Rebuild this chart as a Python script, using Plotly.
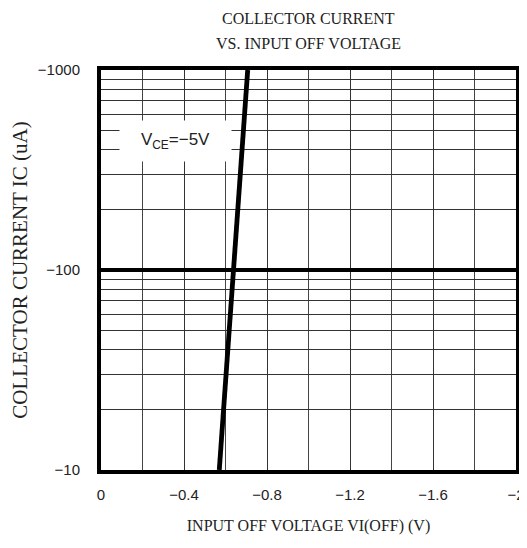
import plotly.graph_objects as go

# Data (current magnitudes in uA; sign shown in tick labels)
vi_off = [-0.57, -0.638, -0.707]
ic_mag = [10, 100, 1000]

x_tick_vals = [0, -0.4, -0.8, -1.2, -1.6, -2]
x_tick_text = ["0", "−0.4", "−0.8", "−1.2", "−1.6", "−2"]
x_minor_vals = [-0.2, -0.6, -1.0, -1.4, -1.8]

y_tick_vals = [10, 100, 1000]
y_tick_text = ["−10", "−100", "−1000"]
y_minor_vals = [20, 30, 40, 50, 60, 70, 80, 90, 200, 300, 400, 500, 600, 700, 800, 900]

title_lines = ["COLLECTOR CURRENT", "VS. INPUT OFF VOLTAGE"]

serif = "Liberation Serif, Times New Roman, serif"
sans = "Liberation Sans, Arial, sans-serif"

fig = go.Figure()
fig.add_trace(go.Scatter(x=vi_off, y=ic_mag, mode="lines",
                         line=dict(color="black", width=4.8), showlegend=False))

# page body has an 8px default margin: figure is sized to fill the rest of the window
fig.update_layout(
    width=519, height=540,
    margin=dict(l=93, r=11, t=62, b=78, autoexpand=False),
    paper_bgcolor="white", plot_bgcolor="white",
    xaxis=dict(range=[0, -2], tickvals=x_tick_vals, ticktext=x_tick_text,
               showgrid=True, gridcolor="#333", gridwidth=1,
               minor=dict(tickvals=x_minor_vals, showgrid=True, gridcolor="#444", gridwidth=1),
               showline=True, mirror=True, linecolor="black", linewidth=4,
               ticks="outside", ticklen=8, tickcolor="white",
               tickfont=dict(family=sans, size=15, color="#222"),
               title=dict(text="INPUT OFF VOLTAGE VI(OFF) (V)", standoff=19,
                          font=dict(family=serif, size=16, color="#222")),
               zeroline=False, automargin=False),
    yaxis=dict(type="log", range=[1, 3], tickvals=y_tick_vals, ticktext=y_tick_text,
               showgrid=True, gridcolor="black", gridwidth=4,
               minor=dict(tickvals=y_minor_vals, showgrid=True, gridcolor="#333", gridwidth=1),
               showline=True, mirror=True, linecolor="black", linewidth=4,
               ticks="outside", ticklen=14, tickcolor="white",
               tickfont=dict(family=sans, size=15, color="#222"),
               title=dict(text="COLLECTOR CURRENT IC (uA)", standoff=15,
                          font=dict(family=serif, size=21, color="#222")),
               zeroline=False, automargin=False),
)

for i, line in enumerate(title_lines):
    fig.add_annotation(x=0.5, xref="paper", xanchor="center",
                       y=1.13 - 0.0625 * i, yref="paper", yanchor="middle",
                       text=line, showarrow=False,
                       font=dict(family=serif, size=16, color="#222"))

fig.add_annotation(x=-0.36, y=2.643, xref="x", yref="y",
                   text="V<sub>CE</sub>=−5V", showarrow=False,
                   font=dict(family=sans, size=17, color="#222"),
                   width=95, height=24, align="center",
                   bgcolor="white", borderpad=8)

fig.write_html("out.html")
